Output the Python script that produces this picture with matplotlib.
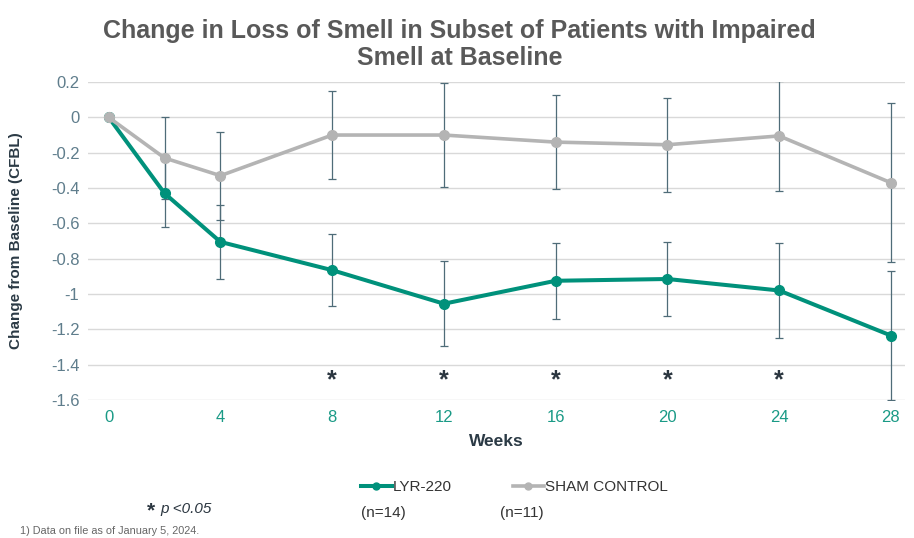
import matplotlib.pyplot as plt
from matplotlib.lines import Line2D

plt.rcParams['font.family'] = ['Liberation Sans', 'DejaVu Sans']

# data
weeks = [0, 2, 4, 8, 12, 16, 20, 24, 28]
lyr_mean = [0, -0.43, -0.705, -0.865, -1.055, -0.925, -0.915, -0.98, -1.235]
lyr_err = [0, 0.19, 0.21, 0.205, 0.24, 0.215, 0.21, 0.27, 0.365]
sham_mean = [0, -0.23, -0.33, -0.10, -0.10, -0.14, -0.155, -0.105, -0.37]
sham_err = [0, 0.23, 0.25, 0.25, 0.295, 0.265, 0.265, 0.31, 0.45]
sig_weeks = [8, 12, 16, 20, 24]
y_ticks = [0.2, 0, -0.2, -0.4, -0.6, -0.8, -1, -1.2, -1.4, -1.6]
x_ticks = [0, 4, 8, 12, 16, 20, 24, 28]

TEAL = '#00917b'
GRAY = '#b4b4b4'
ERR = '#4f6c78'

fig = plt.figure(figsize=(9.14, 5.38), dpi=100)
ax = fig.add_axes([0.096, 0.2565, 0.894, 0.591])

# error bars first, lines on top
ax.errorbar(weeks, lyr_mean, yerr=lyr_err, fmt='none', ecolor=ERR,
            elinewidth=0.9, capsize=3, capthick=0.9, zorder=2)
ax.errorbar(weeks, sham_mean, yerr=sham_err, fmt='none', ecolor=ERR,
            elinewidth=0.9, capsize=3, capthick=0.9, zorder=2)
ax.plot(weeks, lyr_mean, color=TEAL, lw=2.9, marker='o', ms=7, zorder=3)
ax.plot(weeks, sham_mean, color=GRAY, lw=2.6, marker='o', ms=7, zorder=4)

for w in sig_weeks:
    ax.text(w, -1.49, '*', ha='center', va='center', fontsize=18,
            color='#2b3640', fontweight='bold')

ax.set_xlim(-0.75, 28.5)
ax.set_ylim(-1.6, 0.2)
ax.set_yticks(y_ticks)
ax.set_yticklabels([f'{t:g}' for t in y_ticks])
ax.set_xticks(x_ticks)
ax.tick_params(axis='y', length=0, pad=6, labelsize=12, labelcolor='#5f7d8c')
ax.tick_params(axis='x', length=0, pad=7, labelsize=12, labelcolor='#1a9a86')
ax.grid(axis='y', color='#d9d9d9', lw=1)
ax.set_axisbelow(True)
for s in ax.spines.values():
    s.set_visible(False)

ax.set_xlabel('Weeks', fontsize=12.5, fontweight='bold', color='#2b3a45', labelpad=7)
ax.set_ylabel('Change from Baseline (CFBL)', fontsize=11, fontweight='bold',
              color='#2b3a45', labelpad=20)

fig.text(0.503, 0.918, 'Change in Loss of Smell in Subset of Patients with Impaired\nSmell at Baseline',
         ha='center', va='center', fontsize=18, fontweight='bold', color='#595959',
         linespacing=1.15)

handles = [Line2D([], [], color=TEAL, lw=2.9, marker='o', ms=5),
           Line2D([], [], color=GRAY, lw=2.6, marker='o', ms=5)]
fig.legend(handles, ['LYR-220', 'SHAM CONTROL'], loc='center', ncol=2,
           bbox_to_anchor=(0.563, 0.095), frameon=False, fontsize=11,
           handlelength=2.0, handletextpad=0.1, columnspacing=4.0,
           labelcolor='#333333')
fig.text(0.395, 0.047, '(n=14)', fontsize=11, color='#333333', va='center')
fig.text(0.547, 0.047, '(n=11)', fontsize=11, color='#333333', va='center')

fig.text(0.161, 0.050, '*', fontsize=15, fontweight='bold', color='#2b3640', va='center')
fig.text(0.175, 0.053, 'p <0.05', fontsize=11, style='italic', color='#2b3640', va='center')
fig.text(0.022, 0.013, '1) Data on file as of January 5, 2024.', fontsize=7.8,
         color='#666666', va='center')

fig.savefig('out.png', dpi=100)
